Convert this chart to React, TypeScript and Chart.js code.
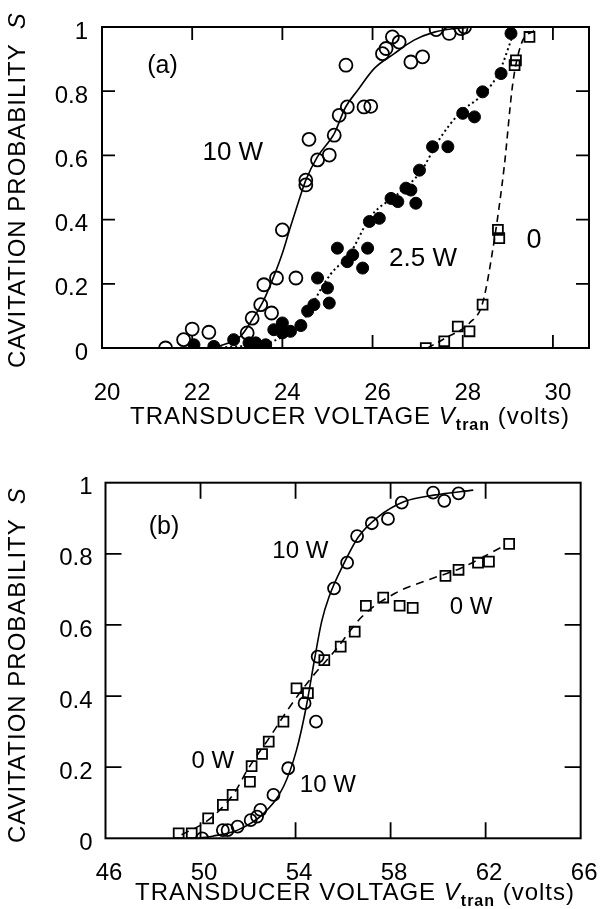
import React, { useEffect, useRef } from "react";
import { Chart, registerables } from "chart.js";
Chart.register(...registerables);

const FONT = "'Liberation Sans', Arial, Helvetica, sans-serif";

// ---------- Panel (a) ----------
const aXTicks = [20, 22, 24, 26, 28, 30];
const aYTicks = [0, 0.2, 0.4, 0.6, 0.8, 1];

// 10 W (open circles)
const a10V = [21.41, 21.81, 22.0, 22.37, 23.22, 23.33, 23.52, 23.59, 23.76, 23.87, 24.0, 24.3, 24.52, 24.52, 24.59, 24.78, 25.04, 25.15, 25.26, 25.41, 25.44, 25.81, 25.96, 26.22, 26.3, 26.44, 26.59, 26.85, 27.11, 27.41, 27.7, 27.96, 28.04];
const a10S = [0.0, 0.026, 0.059, 0.049, 0.047, 0.093, 0.135, 0.197, 0.109, 0.218, 0.368, 0.218, 0.508, 0.523, 0.65, 0.586, 0.601, 0.663, 0.725, 0.881, 0.751, 0.751, 0.753, 0.917, 0.933, 0.969, 0.953, 0.891, 0.907, 0.992, 0.98, 0.995, 1.0];
// 10 W fitted curve (solid)
const a10FitV = [22.55, 23.07, 23.33, 23.59, 23.81, 24.0, 24.18, 24.37, 24.52, 24.78, 25.15, 25.4, 25.67, 26.04, 26.48, 26.92, 27.37, 27.81, 28.07];
const a10FitS = [0.003, 0.036, 0.088, 0.15, 0.223, 0.295, 0.378, 0.461, 0.523, 0.596, 0.668, 0.75, 0.803, 0.871, 0.917, 0.959, 0.984, 0.995, 0.998];

// 2.5 W (filled circles)
const a25V = [22.04, 22.48, 22.92, 23.26, 23.41, 23.63, 23.81, 24.0, 24.0, 24.18, 24.41, 24.56, 24.7, 24.78, 25.0, 25.04, 25.22, 25.44, 25.56, 25.78, 25.89, 25.93, 26.15, 26.41, 26.56, 26.74, 26.85, 26.96, 27.04, 27.33, 27.67, 28.0, 28.26, 28.44, 28.85, 29.07];
const a25S = [0.01, 0.005, 0.026, 0.016, 0.016, 0.01, 0.057, 0.078, 0.047, 0.052, 0.07, 0.115, 0.135, 0.218, 0.187, 0.14, 0.311, 0.269, 0.29, 0.249, 0.311, 0.394, 0.404, 0.466, 0.456, 0.498, 0.492, 0.451, 0.554, 0.627, 0.627, 0.731, 0.72, 0.798, 0.855, 0.98];
// 2.5 W curve (dotted)
const a25FitV = [22.4, 23.0, 23.6, 24.0, 24.41, 24.56, 25.07, 25.48, 25.96, 26.56, 27.07, 27.48, 27.92, 28.52, 28.81, 29.1];
const a25FitS = [0.0, 0.005, 0.012, 0.035, 0.07, 0.11, 0.23, 0.29, 0.41, 0.48, 0.55, 0.65, 0.73, 0.8, 0.86, 0.97];

// 0 W (open squares)
const a0V = [27.18, 27.59, 27.89, 28.15, 28.44, 28.78, 28.81, 29.15, 29.18, 29.48];
const a0S = [0.0, 0.021, 0.067, 0.052, 0.135, 0.368, 0.342, 0.881, 0.896, 0.969];
// 0 W curve (dashed)
const a0FitV = [27.22, 27.6, 28.15, 28.44, 28.7, 28.92, 29.11, 29.3, 29.59];
const a0FitS = [0.0, 0.03, 0.078, 0.14, 0.337, 0.565, 0.824, 0.948, 0.99];

// ---------- Panel (b) ----------
const bXTicks = [46, 50, 54, 58, 62, 66];
const bYTicks = [0, 0.2, 0.4, 0.6, 0.8, 1];

// 0 W (open squares)
const b0V = [49.08, 49.63, 50.32, 50.94, 51.35, 52.08, 52.15, 52.59, 52.87, 53.49, 54.04, 54.52, 55.21, 55.9, 56.49, 56.96, 57.69, 58.38, 58.93, 60.31, 60.86, 61.68, 62.14, 62.99];
const b0S = [0.014, 0.014, 0.056, 0.094, 0.122, 0.159, 0.203, 0.237, 0.272, 0.328, 0.422, 0.408, 0.501, 0.539, 0.581, 0.654, 0.677, 0.654, 0.648, 0.738, 0.755, 0.775, 0.778, 0.828];
const b0FitV = [49.2, 50.32, 51.42, 51.97, 52.93, 53.76, 54.59, 55.69, 56.79, 58.19, 59.55, 60.93, 62.85];
const b0FitS = [0.01, 0.051, 0.127, 0.192, 0.286, 0.37, 0.445, 0.53, 0.623, 0.689, 0.726, 0.759, 0.825];

// 10 W (open circles)
const b10V = [50.07, 50.94, 51.14, 51.56, 52.11, 52.38, 52.52, 53.07, 53.69, 54.38, 54.86, 54.93, 55.62, 56.17, 56.59, 57.21, 57.89, 58.47, 59.79, 60.26, 60.86];
const b10S = [0.0, 0.023, 0.023, 0.033, 0.051, 0.061, 0.08, 0.122, 0.197, 0.38, 0.328, 0.511, 0.703, 0.775, 0.85, 0.886, 0.898, 0.944, 0.972, 0.949, 0.97];
const b10FitV = [49.9, 50.5, 51.56, 52.66, 53.49, 54.04, 54.45, 54.79, 55.1, 55.41, 55.97, 56.65, 57.48, 58.58, 59.82, 61.48];
const b10FitS = [0.0, 0.006, 0.023, 0.07, 0.145, 0.248, 0.37, 0.5, 0.61, 0.679, 0.764, 0.848, 0.904, 0.947, 0.965, 0.979];

// Annotations (text, data x, data y, font size)
const aNotes: [string, number, number, number][] = [
  ["(a)", 21.34, 0.878, 25],
  ["10 W", 22.9, 0.607, 26],
  ["2.5 W", 27.12, 0.278, 26],
  ["0", 29.58, 0.334, 27],
];
const bNotes: [string, number, number, number][] = [
  ["(b)", 48.46, 0.875, 25],
  ["10 W", 54.2, 0.808, 24],
  ["0 W", 50.52, 0.215, 24],
  ["10 W", 55.36, 0.15, 24],
  ["0 W", 61.39, 0.648, 24],
];

const pts = (xs: number[], ys: number[]) => xs.map((x, i) => ({ x, y: ys[i] }));

function drawXTitle(ctx: CanvasRenderingContext2D, cx: number, baseline: number) {
  const segs = [
    { t: "TRANSDUCER VOLTAGE ", f: `24px ${FONT}`, dy: 0 },
    { t: "V", f: `italic 24px ${FONT}`, dy: 0 },
    { t: "tran", f: `bold 16px ${FONT}`, dy: 6 },
    { t: " (volts)", f: `24px ${FONT}`, dy: 0 },
  ];
  (ctx as any).letterSpacing = "1px";
  let total = 0;
  const widths = segs.map((s) => {
    ctx.font = s.f;
    const w = ctx.measureText(s.t).width;
    total += w;
    return w;
  });
  let x = cx - total / 2;
  ctx.textAlign = "left";
  ctx.textBaseline = "alphabetic";
  segs.forEach((s, i) => {
    ctx.font = s.f;
    ctx.fillText(s.t, x, baseline + s.dy);
    x += widths[i];
  });
  (ctx as any).letterSpacing = "0px";
}

function drawYTitle(ctx: CanvasRenderingContext2D, cx: number, bottom: number) {
  ctx.save();
  ctx.translate(cx, bottom);
  ctx.rotate(-Math.PI / 2);
  (ctx as any).letterSpacing = "1px";
  ctx.textAlign = "left";
  ctx.textBaseline = "middle";
  ctx.font = `24px ${FONT}`;
  const main = "CAVITATION PROBABILITY";
  ctx.fillText(main, 0, 0);
  const w = ctx.measureText(main).width;
  ctx.font = `italic 24px ${FONT}`;
  ctx.fillText("S", w + 14, 0);
  ctx.restore();
}

const framePlugin = {
  id: "frame",
  afterDraw(chart: any, _args: any, opts: any) {
    const { ctx, chartArea: ca, scales } = chart;
    const xs = scales.x;
    const ys = scales.y;
    ctx.save();
    ctx.strokeStyle = "#000";
    ctx.lineWidth = 2;
    ctx.strokeRect(ca.left, ca.top, ca.right - ca.left, ca.bottom - ca.top);
    ctx.lineWidth = 1.8;
    const L = opts.tickLen;
    ctx.beginPath();
    xs.ticks.forEach((t: any) => {
      const p = xs.getPixelForValue(t.value);
      if (p <= ca.left + 1 || p >= ca.right - 1) return;
      ctx.moveTo(p, ca.bottom);
      ctx.lineTo(p, ca.bottom - L);
      ctx.moveTo(p, ca.top);
      ctx.lineTo(p, ca.top + L);
    });
    ys.ticks.forEach((t: any) => {
      const p = ys.getPixelForValue(t.value);
      if (p <= ca.top + 1 || p >= ca.bottom - 1) return;
      ctx.moveTo(ca.left, p);
      ctx.lineTo(ca.left + L, p);
      ctx.moveTo(ca.right, p);
      ctx.lineTo(ca.right - L, p);
    });
    ctx.stroke();

    ctx.fillStyle = "#000";
    ctx.textAlign = "center";
    ctx.textBaseline = "middle";
    (opts.notes || []).forEach((n: [string, number, number, number]) => {
      ctx.font = `${n[3]}px ${FONT}`;
      ctx.fillText(n[0], xs.getPixelForValue(n[1]), ys.getPixelForValue(n[2]));
    });

    drawXTitle(ctx, opts.xTitleX, opts.xTitleBase);
    drawYTitle(ctx, opts.yTitleX, opts.yTitleBottom);
    ctx.restore();
  },
};

function makeConfig(p: any) {
  return {
    type: "scatter",
    data: { datasets: p.datasets },
    options: {
      animation: false,
      responsive: false,
      devicePixelRatio: 1,
      layout: { padding: { top: p.top, right: p.right, left: 0, bottom: 0 } },
      plugins: {
        legend: { display: false },
        tooltip: { enabled: false },
        frame: p.frame,
      },
      scales: {
        x: {
          type: "linear",
          min: p.xMin,
          max: p.xMax,
          afterBuildTicks: (s: any) => {
            s.ticks = p.xTicks.map((v: number) => ({ value: v }));
          },
          afterFit: (s: any) => {
            s.height = p.xAxisH;
          },
          grid: { display: false },
          border: { display: false },
          ticks: {
            font: { size: 24, family: FONT },
            color: "#000",
            padding: p.xPad,
            labelOffset: p.xLabelOffset,
            maxRotation: 0,
            autoSkip: false,
            callback: (v: number) => String(v),
          },
        },
        y: {
          type: "linear",
          min: 0,
          max: 1,
          afterBuildTicks: (s: any) => {
            s.ticks = p.yTicks.map((v: number) => ({ value: v }));
          },
          afterFit: (s: any) => {
            s.width = p.yAxisW;
          },
          grid: { display: false },
          border: { display: false },
          ticks: {
            font: { size: 24, family: FONT },
            color: "#000",
            padding: p.yPad,
            labelOffset: 5,
            autoSkip: false,
            callback: (v: number) => String(v),
          },
        },
      },
    },
    plugins: [framePlugin],
  };
}

const openCircle = (data: any[], r: number) => ({
  data,
  showLine: false,
  pointStyle: "circle",
  pointRadius: r,
  pointBackgroundColor: "rgba(0,0,0,0)",
  pointBorderColor: "#000",
  pointBorderWidth: 1.8,
});
const filledCircle = (data: any[], r: number) => ({
  data,
  showLine: false,
  pointStyle: "circle",
  pointRadius: r,
  pointBackgroundColor: "#000",
  pointBorderColor: "#000",
  pointBorderWidth: 1,
});
const openSquare = (data: any[], r: number) => ({
  data,
  showLine: false,
  pointStyle: "rect",
  pointRadius: r,
  pointBackgroundColor: "rgba(0,0,0,0)",
  pointBorderColor: "#000",
  pointBorderWidth: 1.8,
});
const curve = (data: any[], dash: number[], w: number) => ({
  data,
  showLine: true,
  pointRadius: 0,
  borderColor: "#000",
  borderWidth: w,
  borderDash: dash,
  cubicInterpolationMode: "monotone",
  fill: false,
});

export default function App() {
  const refA = useRef<HTMLCanvasElement>(null);
  const refB = useRef<HTMLCanvasElement>(null);

  useEffect(() => {
    const chartA = new Chart(
      refA.current as HTMLCanvasElement,
      makeConfig({
        datasets: [
          curve(pts(a10FitV, a10FitS), [], 1.6),
          curve(pts(a25FitV, a25FitS), [2, 3], 2),
          curve(pts(a0FitV, a0FitS), [7, 5], 1.6),
          openCircle(pts(a10V, a10S), 6.5),
          filledCircle(pts(a25V, a25S), 6),
          openSquare(pts(a0V, a0S), 7),
        ],
        top: 27,
        right: 18,
        xMin: 20,
        xMax: 30.8,
        xTicks: aXTicks,
        yTicks: aYTicks,
        xAxisH: 92,
        yAxisW: 102,
        xPad: 23,
        yPad: 6,
        xLabelOffset: 5,
        frame: {
          tickLen: 13,
          notes: aNotes,
          xTitleX: 350,
          xTitleBase: 424,
          yTitleX: 18,
          yTitleBottom: 368,
        },
      }) as any
    );
    const chartB = new Chart(
      refB.current as HTMLCanvasElement,
      makeConfig({
        datasets: [
          curve(pts(b10FitV, b10FitS), [], 1.6),
          curve(pts(b0FitV, b0FitS), [8, 6], 1.6),
          openCircle(pts(b10V, b10S), 6),
          openSquare(pts(b0V, b0S), 7),
        ],
        top: 42.7,
        right: 17.5,
        xMin: 46,
        xMax: 66,
        xTicks: bXTicks,
        yTicks: bYTicks,
        xAxisH: 70.7,
        yAxisW: 105.5,
        xPad: 13,
        yPad: 5,
        xLabelOffset: 3.5,
        frame: {
          tickLen: 16,
          notes: bNotes,
          xTitleX: 355,
          xTitleBase: 460,
          yTitleX: 18,
          yTitleBottom: 403,
        },
      }) as any
    );
    return () => {
      chartA.destroy();
      chartB.destroy();
    };
  }, []);

  return (
    <div style={{ position: "absolute", left: 0, top: 0, width: 607, height: 909, background: "#fff" }}>
      <canvas ref={refA} width={607} height={440} style={{ position: "absolute", left: 0, top: 0, display: "block" }} />
      <canvas ref={refB} width={607} height={469} style={{ position: "absolute", left: 0, top: 440, display: "block" }} />
    </div>
  );
}
